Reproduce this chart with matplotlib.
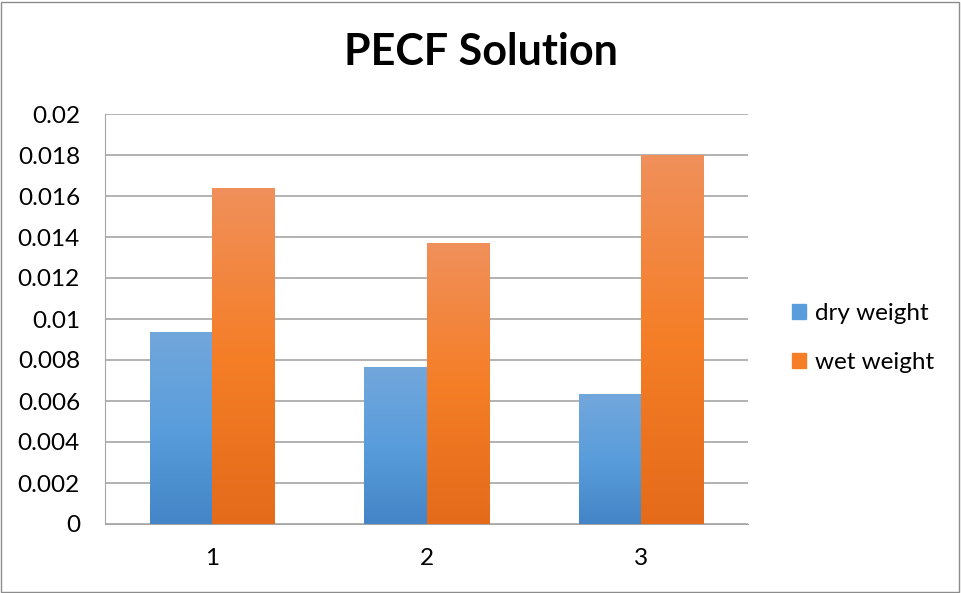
import numpy as np
import matplotlib.pyplot as plt
from matplotlib.colors import LinearSegmentedColormap
from matplotlib.patches import Rectangle

plt.rcParams['font.family'] = ['Lato', 'DejaVu Sans']

categories = ['1', '2', '3']
dry_weight = [0.00937, 0.00766, 0.00634]
wet_weight = [0.01639, 0.01371, 0.0180]
y_ticks = [0, 0.002, 0.004, 0.006, 0.008, 0.01, 0.012, 0.014, 0.016, 0.018, 0.02]
y_labels = ['0', '0.002', '0.004', '0.006', '0.008', '0.01', '0.012', '0.014', '0.016', '0.018', '0.02']

# gradient stops (bottom, middle, top)
blue_grad = LinearSegmentedColormap.from_list('blue', ['#4385c6', '#5a9ddc', '#72a7db'])
orange_grad = LinearSegmentedColormap.from_list('orange', ['#e46b1a', '#f57e27', '#f0905b'])

fig = plt.figure(figsize=(9.61, 5.93), dpi=100)
ax = fig.add_axes([105 / 961, 69 / 593, 643 / 961, 410 / 593])

x = np.arange(len(categories))
w = 0.29
grad = np.linspace(0, 1, 256).reshape(-1, 1)


def gradient_bars(xs, vals, cmap, label):
    bars = ax.bar(xs, vals, width=w, color=cmap(0.5), label=label, zorder=3, linewidth=0)
    for b in bars:
        b.set_facecolor('none')
        x0, y0 = b.get_x(), b.get_y()
        im = ax.imshow(grad, cmap=cmap, aspect='auto', origin='lower',
                       extent=[x0, x0 + b.get_width(), y0, y0 + b.get_height()], zorder=3)
        im.set_clip_path(b)
    return bars


gradient_bars(x - w / 2, dry_weight, blue_grad, 'dry weight')
gradient_bars(x + w / 2, wet_weight, orange_grad, 'wet weight')

ax.set_xlim(-0.5, 2.5)
ax.set_ylim(0, 0.02)
ax.set_yticks(y_ticks)
ax.set_yticklabels(y_labels)
ax.set_xticks(x)
ax.set_xticklabels(categories)
ax.tick_params(axis='both', length=0, labelsize=17.5, colors='#000000')
ax.tick_params(axis='y', pad=18)
ax.tick_params(axis='x', pad=17)
ax.yaxis.grid(True, color='#a6a6a6', linewidth=1.2, zorder=0)
ax.set_axisbelow(True)
for s in ['top', 'right']:
    ax.spines[s].set_visible(False)
ax.spines['left'].set_color('#a6a6a6')
ax.spines['bottom'].set_color('#a6a6a6')

fig.text(481 / 961, 1 - 52 / 593, 'PECF Solution', ha='center', va='center',
         fontsize=31, fontweight='bold')

handles = [Rectangle((0, 0), 1, 1, color=blue_grad(0.5)),
           Rectangle((0, 0), 1, 1, color=orange_grad(0.5))]
fig.legend(handles, ['dry weight', 'wet weight'], loc='center left',
           bbox_to_anchor=(770 / 961, 1 - 338 / 593), frameon=False,
           fontsize=17.5, handlelength=0.6, handleheight=0.6, handletextpad=0.35,
           labelspacing=1.15)

# outer chart border
fig.add_artist(Rectangle((0.001, 0.002), 0.997, 0.995, transform=fig.transFigure,
                         fill=False, edgecolor='#8c8c8c', linewidth=1))

fig.savefig('out.png', dpi=100)
